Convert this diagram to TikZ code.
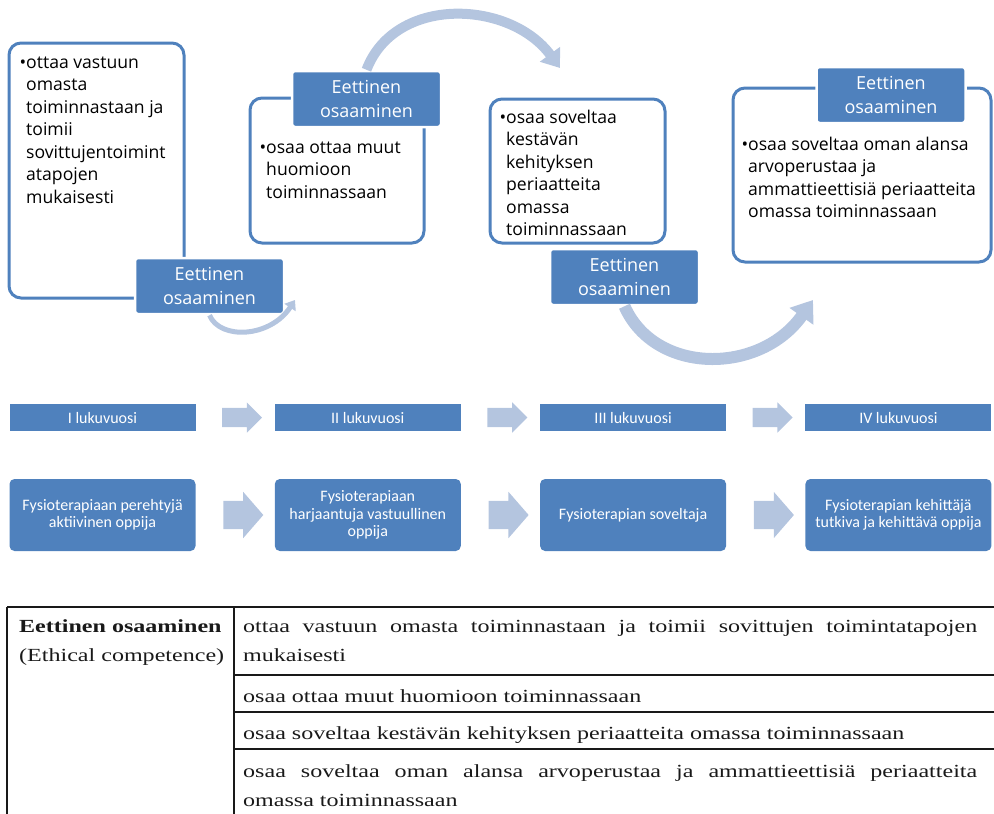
\documentclass[tikz,border=0pt]{standalone}
\usepackage{fontspec}
\usetikzlibrary{arrows.meta,shapes.arrows,calc}
\newfontfamily\boxfont{Open Sans}
\newfontfamily\barfont{Carlito}
\newfontfamily\tabfont[FakeStretch=1.3]{Liberation Serif}
\definecolor{okblue}{RGB}{79,129,189}
\definecolor{oklight}{RGB}{180,197,223}

\begin{document}
\begin{tikzpicture}
  [
    x=1pt, y=-1pt,
    frame/.style   = {draw=okblue, line width=3pt, rounded corners=12pt, fill=white, inner sep=0pt},
    tag/.style     = {fill=okblue, draw=white, line width=2.5pt, rounded corners=3pt,
                      minimum width=149pt, minimum height=56pt, inner sep=0pt, align=center,
                      text=white, font=\boxfont\fontsize{18}{24}\selectfont},
    bullets/.style = {anchor=north west, inner sep=0pt, align=left, text=black,
                      font=\boxfont\fontsize{17.6}{22.5}\selectfont},
    arcflow/.style = {draw=oklight, line width=10pt},
    year/.style    = {fill=okblue, minimum width=186pt, minimum height=27pt, inner sep=0pt,
                      text=white, font=\barfont\fontsize{16}{17}\selectfont},
    role/.style    = {fill=okblue, rounded corners=5pt, minimum width=186pt, minimum height=72pt,
                      inner sep=0pt, align=center, text=white, font=\barfont\fontsize{16}{17.3}\selectfont},
    yeararrow/.style = {single arrow, fill=oklight, inner xsep=0pt, minimum height=40pt},
    cell/.style    = {anchor=base west, inner sep=0pt, text=black!90,
                      font=\tabfont\fontsize{18.5}{29}\selectfont},
    rule/.style    = {line width=2pt, draw=black!90},
  ]

\useasboundingbox (0,0) rectangle (994,814);

%Competence boxes with their tags
\node[frame, minimum width=175pt, minimum height=255pt] (f1) at (96.5,170.5) {};
\node[frame, minimum width=174pt, minimum height=145pt] (f2) at (337,170.5) {};
\node[frame, minimum width=175pt, minimum height=144pt] (f3) at (577.5,171) {};
\node[frame, minimum width=258pt, minimum height=174pt] (f4) at (862,175) {};

\node[bullets] (t1) at (26,52.25) {\strut\llap{\textbullet}ottaa vastuun\\omasta\\toiminnastaan ja\\toimii\\sovittujentoimint\\atapojen\\mukaisesti};
\node[bullets] (t2) at (266,137.25) {\strut\llap{\textbullet}osaa ottaa muut\\huomioon\\toiminnassaan};
\node[bullets] (t3) at (506,107.25) {\strut\llap{\textbullet}osaa soveltaa\\kestävän\\kehityksen\\periaatteita\\omassa\\toiminnassaan};
\node[bullets] (t4) at (748,134.25) {\strut\llap{\textbullet}osaa soveltaa oman alansa\\arvoperustaa ja\\ammattieettisiä periaatteita\\omassa toiminnassaan};

\node[tag] (l1) at (209.5,286) {Eettinen\\osaaminen};
\node[tag] (l2) at (366.5,99) {Eettinen\\osaaminen};
\node[tag] (l3) at (624.5,277) {Eettinen\\osaaminen};
\node[tag] (l4) at (891,95) {Eettinen\\osaaminen};

%Curved arrows
\coordinate (e1) at (295,300);
\coordinate (e2) at (560,68);
\coordinate (e3) at (813,300);
\draw[arcflow, line width=5pt, -{Triangle[width=13pt,length=9pt]}] (l1.south) .. controls (220,340) and (270,338) .. (e1);
\draw[arcflow, -{Triangle[width=24pt,length=17pt]}] (l2.north) .. controls (395,-5) and (510,0) .. (e2);
\draw[arcflow, line width=12pt, -{Triangle[width=28pt,length=20pt]}] (l3.south) .. controls (655,375) and (760,375) .. (e3);

%Years and learner profiles
\def \xa{102.5}
\def \dx{265.3}

\foreach [count=\i] \j in {I,II,III,IV}
{
\node[year] (y\i) at ({\xa+(\i-1)*\dx},417.5) {\j\ lukuvuosi};
}
\foreach [count=\i] \j in {{Fysioterapiaan perehtyjä\\aktiivinen oppija},
                           {Fysioterapiaan\\harjaantuja vastuullinen\\oppija},
                           {Fysioterapian soveltaja},
                           {Fysioterapian kehittäjä\\tutkiva ja kehittävä oppija}}
{
\node[role] (p\i) at ({\xa+(\i-1)*\dx},515) {\j};
}

\foreach \i in {1,2,3}
{
\pgfmathtruncatemacro{\k}{\i+1}
\node[yeararrow, inner ysep=9.5pt, single arrow head extend=5.5pt]
  (ny\i) at ($(y\i.east)!0.5!(y\k.west)+(2,0)$) {};
\node[yeararrow, inner ysep=14pt, single arrow head extend=9pt, single arrow tip angle=98]
  (np\i) at ($(p\i.east)!0.5!(p\k.west)+(2,0)$) {};
}

%Table
\draw[rule] (7,607) -- (994,607);
\draw[rule] (7,607) -- (7,814);
\draw[rule] (234,607) -- (234,814);
\foreach \y in {675,712,749}
  \draw[rule] (234,\y) -- (994,\y);

\node[cell] (h1) at (19,632) {\bfseries Eettinen osaaminen};
\node[cell] (h2) at (19,661) {(Ethical competence)};
\node[cell] (r1) at (243,632) {\makebox[734pt][s]{ottaa vastuun omasta toiminnastaan ja toimii sovittujen toimintatapojen}};
\node[cell] (r1b) at (243,661) {mukaisesti};
\node[cell] (r2) at (243,702) {osaa ottaa muut huomioon toiminnassaan};
\node[cell] (r3) at (243,739) {osaa soveltaa kestävän kehityksen periaatteita omassa toiminnassaan};
\node[cell] (r4) at (243,777) {\makebox[734pt][s]{osaa soveltaa oman alansa arvoperustaa ja ammattieettisiä periaatteita}};
\node[cell] (r4b) at (243,806) {omassa toiminnassaan};
\end{tikzpicture}
\end{document}
